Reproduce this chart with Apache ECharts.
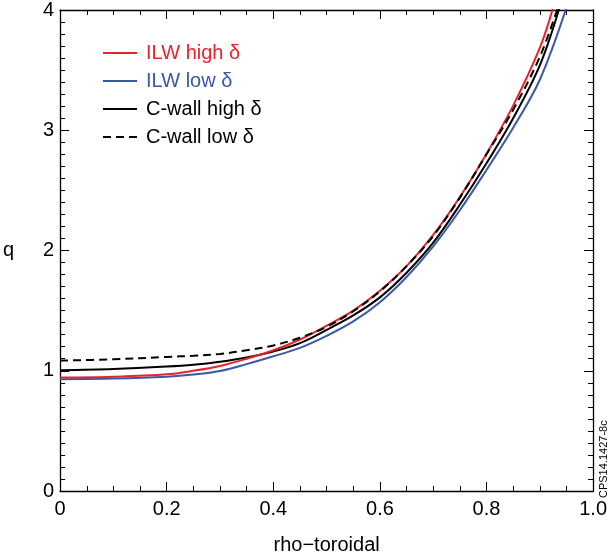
<!DOCTYPE html>
<html>
<head>
<meta charset="utf-8">
<script src="https://cdn.jsdelivr.net/npm/echarts@6/dist/echarts.min.js"></script>
<style>
html,body{margin:0;padding:0;background:#fff;}
#chart{width:610px;height:560px;}
</style>
</head>
<body>
<div id="chart"></div>
<script>
// rho-toroidal sample points
var rho = [0, 0.1, 0.2, 0.25, 0.3, 0.35, 0.4, 0.45, 0.5, 0.55, 0.6, 0.65, 0.7, 0.75, 0.8, 0.85, 0.9];
// q profiles
var ilwHigh  = [0.943, 0.950, 0.970, 1.000, 1.040, 1.100, 1.170, 1.260, 1.375, 1.500, 1.665, 1.870, 2.130, 2.445, 2.805, 3.205, 3.685];
var ilwLow   = [0.930, 0.935, 0.950, 0.968, 0.998, 1.055, 1.120, 1.190, 1.290, 1.410, 1.570, 1.780, 2.035, 2.335, 2.670, 3.020, 3.420];
var cHigh    = [1.005, 1.015, 1.035, 1.050, 1.075, 1.110, 1.160, 1.230, 1.340, 1.460, 1.610, 1.815, 2.065, 2.380, 2.725, 3.100, 3.540];
var cLow     = [1.085, 1.095, 1.115, 1.125, 1.140, 1.170, 1.210, 1.275, 1.365, 1.495, 1.660, 1.870, 2.120, 2.440, 2.800, 3.170, 3.610];
// end points where each curve leaves the top of the frame
var ilwHighEnd = [0.925, 4.02];
var ilwLowEnd  = [0.950, 4.02];
var cHighEnd   = [0.937, 4.02];
var cLowEnd    = [0.934, 4.02];

var seriesNames = ['ILW high \u03b4', 'ILW low \u03b4', 'C-wall high \u03b4', 'C-wall low \u03b4'];
var xTickLabels = ['0', '0.2', '0.4', '0.6', '0.8', '1.0'];
var yTickLabels = ['0', '1', '2', '3', '4'];
var xName = 'rho\u2212toroidal';
var yName = 'q';
var stamp = 'CPS14.1427-8c';

function pairs(ys, end) {
  var out = rho.map(function (x, i) { return [x, ys[i]]; });
  out.push(end);
  return out;
}

var FONT = '"Liberation Sans", Arial, Helvetica, sans-serif';
var colors = ['#e8232b', '#3b58a8', '#000000', '#000000'];

var chart = echarts.init(document.getElementById('chart'), null, {renderer: 'canvas'});

var axisCommon = {
  min: 0,
  axisLine: {show: true, onZero: false, lineStyle: {color: '#000', width: 1.3}},
  splitLine: {show: false},
  axisTick: {show: true, inside: true, length: 9, lineStyle: {color: '#000', width: 1}},
  minorTick: {show: true, length: 5, lineStyle: {color: '#000', width: 1}}
};

var option = {
  animation: false,
  backgroundColor: '#fff',
  grid: {left: 60, right: 13, top: 10, bottom: 59, containLabel: false},
  legend: {
    orient: 'vertical',
    left: 97,
    top: 38,
    itemWidth: 34,
    itemHeight: 14,
    itemGap: 8,
    itemStyle: {opacity: 0},
    textStyle: {fontSize: 20, fontFamily: FONT, padding: [0, 0, 0, 4]},
    data: seriesNames.map(function (n, i) {
      return {name: n, textStyle: {color: colors[i], fontSize: 20, fontFamily: FONT}};
    })
  },
  xAxis: [
    Object.assign({}, axisCommon, {
      type: 'value', max: 1, interval: 0.2, position: 'bottom',
      minorTick: {show: true, splitNumber: 4, length: 5, lineStyle: {color: '#000'}},
      name: xName, nameLocation: 'middle', nameGap: 44,
      nameTextStyle: {fontSize: 20, fontFamily: FONT, color: '#000'},
      axisLabel: {
        fontSize: 20, fontFamily: FONT, color: '#000', margin: 8,
        formatter: function (v) { return xTickLabels[Math.round(v / 0.2)]; }
      }
    }),
    Object.assign({}, axisCommon, {
      type: 'value', max: 1, interval: 0.2, position: 'top',
      minorTick: {show: true, splitNumber: 4, length: 5, lineStyle: {color: '#000'}},
      axisLabel: {show: false}
    })
  ],
  yAxis: [
    Object.assign({}, axisCommon, {
      type: 'value', max: 4, interval: 1, position: 'left',
      minorTick: {show: true, splitNumber: 10, length: 5, lineStyle: {color: '#000'}},
      name: yName, nameLocation: 'middle', nameGap: 46, nameRotate: 0,
      nameTextStyle: {fontSize: 20, fontFamily: FONT, color: '#000'},
      axisLabel: {
        fontSize: 20, fontFamily: FONT, color: '#000', margin: 6,
        formatter: function (v) { return yTickLabels[Math.round(v)]; }
      }
    }),
    Object.assign({}, axisCommon, {
      type: 'value', max: 4, interval: 1, position: 'right',
      minorTick: {show: true, splitNumber: 10, length: 5, lineStyle: {color: '#000'}},
      axisLabel: {show: false}
    })
  ],
  graphic: [{
    type: 'text',
    x: 604, y: 498,
    rotation: Math.PI / 2,
    style: {text: stamp, fontSize: 11, fontFamily: FONT, fill: '#000', align: 'left', verticalAlign: 'middle'}
  }],
  series: [
    {name: seriesNames[0], type: 'line', data: pairs(ilwHigh, ilwHighEnd), smooth: 0.35, symbol: 'none', clip: true,
     lineStyle: {color: colors[0], width: 2}, itemStyle: {color: colors[0]}, z: 4},
    {name: seriesNames[1], type: 'line', data: pairs(ilwLow, ilwLowEnd), smooth: 0.35, symbol: 'none', clip: true,
     lineStyle: {color: colors[1], width: 2}, itemStyle: {color: colors[1]}, z: 3},
    {name: seriesNames[2], type: 'line', data: pairs(cHigh, cHighEnd), smooth: 0.35, symbol: 'none', clip: true,
     lineStyle: {color: colors[2], width: 2}, itemStyle: {color: colors[2]}, z: 2},
    {name: seriesNames[3], type: 'line', data: pairs(cLow, cLowEnd), smooth: 0.35, symbol: 'none', clip: true,
     lineStyle: {color: colors[3], width: 2, type: [8, 5]}, itemStyle: {color: colors[3]}, z: 5}
  ]
};

chart.setOption(option);
</script>
</body>
</html>
